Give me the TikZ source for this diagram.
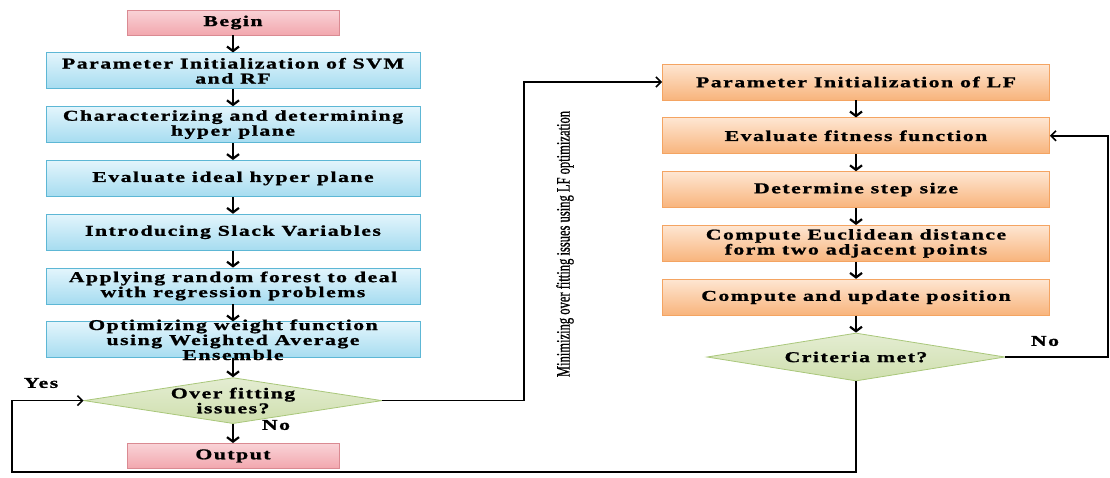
\documentclass[tikz,border=0pt]{standalone}
\usepackage{fontspec}
\setmainfont{Liberation Serif}
\newfontfamily\boxfont{Liberation Serif}[FakeStretch=1.45,LetterSpace=10,FakeBold=1.2]
\newfontfamily\sidefont{Liberation Serif}[FakeStretch=0.66,FakeBold=0.8]
\usepackage{tikz}
\usetikzlibrary{shapes.geometric,arrows.meta,positioning}

\definecolor{pinktop}{HTML}{F9D3D7}
\definecolor{pinkbot}{HTML}{F2A7AE}
\definecolor{pinkline}{HTML}{DA8A92}
\definecolor{bluetop}{HTML}{E3F5FC}
\definecolor{bluebot}{HTML}{A6DCF0}
\definecolor{blueline}{HTML}{5DB7D5}
\definecolor{orangetop}{HTML}{FEE6D2}
\definecolor{orangebot}{HTML}{F8B47C}
\definecolor{orangeline}{HTML}{F4A462}
\definecolor{greentop}{HTML}{E4EDD2}
\definecolor{greenbot}{HTML}{CFDFAE}
\definecolor{greenline}{HTML}{A9C77A}

\begin{document}
\begin{tikzpicture}[x=1pt, y=-1pt,
    every node/.style={font=\boxfont\bfseries\fontsize{15}{15}\selectfont, align=center},
    box/.style={rectangle, draw, line width=0.8pt, minimum width=374pt, minimum height=36pt, inner sep=0pt},
    pinkbox/.style={box, draw=pinkline, top color=pinktop, bottom color=pinkbot, minimum width=212pt, minimum height=25pt},
    bluebox/.style={box, draw=blueline, top color=bluetop, bottom color=bluebot},
    orangebox/.style={box, draw=orangeline, top color=orangetop, bottom color=orangebot, minimum width=387pt},
    decision/.style={diamond, draw=greenline, line width=0.8pt, top color=greentop, bottom color=greenbot, inner sep=0pt, minimum width=298pt, minimum height=46pt},
    flow/.style={-{Straight Barb[length=4.5pt,width=12pt]}, line width=2.2pt},
    loopline/.style={-{Straight Barb[length=5pt,width=10pt]}, line width=1.6pt}]
    \useasboundingbox (0,0) rectangle (1110,477);

    % SVM and RF column
    \node [pinkbox] (begin) at (233,22.5) {Begin};
    \node [bluebox, below=17pt of begin] (b1) {Parameter Initialization of SVM\\and RF};
    \node [bluebox, below=17pt of b1] (b2) {Characterizing and determining\\hyper plane};
    \node [bluebox, below=17pt of b2] (b3) {Evaluate ideal hyper plane};
    \node [bluebox, below=17pt of b3] (b4) {Introducing Slack Variables};
    \node [bluebox, below=17pt of b4] (b5) {Applying random forest to deal\\with regression problems};
    \node [bluebox, inner ysep=-4.5pt, below=17pt of b5] (b6) {Optimizing weight function\\using Weighted Average\\Ensemble};
    \node [decision, below=19pt of b6, label={center:Over fitting\\issues?}] (over) {};
    \node [pinkbox, below=19pt of over] (output) {Output};

    % LF column
    \node [orangebox] (o1) at (856,82) {Parameter Initialization of LF};
    \node [orangebox, below=17pt of o1] (o2) {Evaluate fitness function};
    \node [orangebox, below=17pt of o2] (o3) {Determine step size};
    \node [orangebox, below=17pt of o3] (o4) {Compute Euclidean distance\\form two adjacent points};
    \node [orangebox, below=17pt of o4] (o5) {Compute and update position};
    \node [decision, minimum height=48pt, below=17pt of o5, label={center:Criteria met?}] (crit) {};

    \foreach \from/\to in {begin/b1, b1/b2, b2/b3, b3/b4, b4/b5, b5/b6, b6/over, over/output, o1/o2, o2/o3, o3/o4, o4/o5, o5/crit}
        \draw [flow] (\from) -- (\to);

    % loops
    \coordinate (mid) at (524,0);
    \coordinate (rightedge) at (1108,0);
    \coordinate (leftedge) at (12,472);
    \draw [loopline] (over.east) -| (mid |- o1.west) -- (o1.west);
    \draw [loopline] (crit.east) -| (rightedge |- o2.east) -- (o2.east);
    \draw [loopline] (crit.south) |- (leftedge) |- (over.west);

    \node (yes) at (41,383) {Yes};
    \node (noover) at (276,425) {No};
    \node (nocrit) at (1045,341) {No};
    \node [font=\sidefont\fontsize{19}{20}\selectfont, rotate=90] (lfnote) at (565,244) {Minimizing over fitting issues using LF optimization};
\end{tikzpicture}
\end{document}
